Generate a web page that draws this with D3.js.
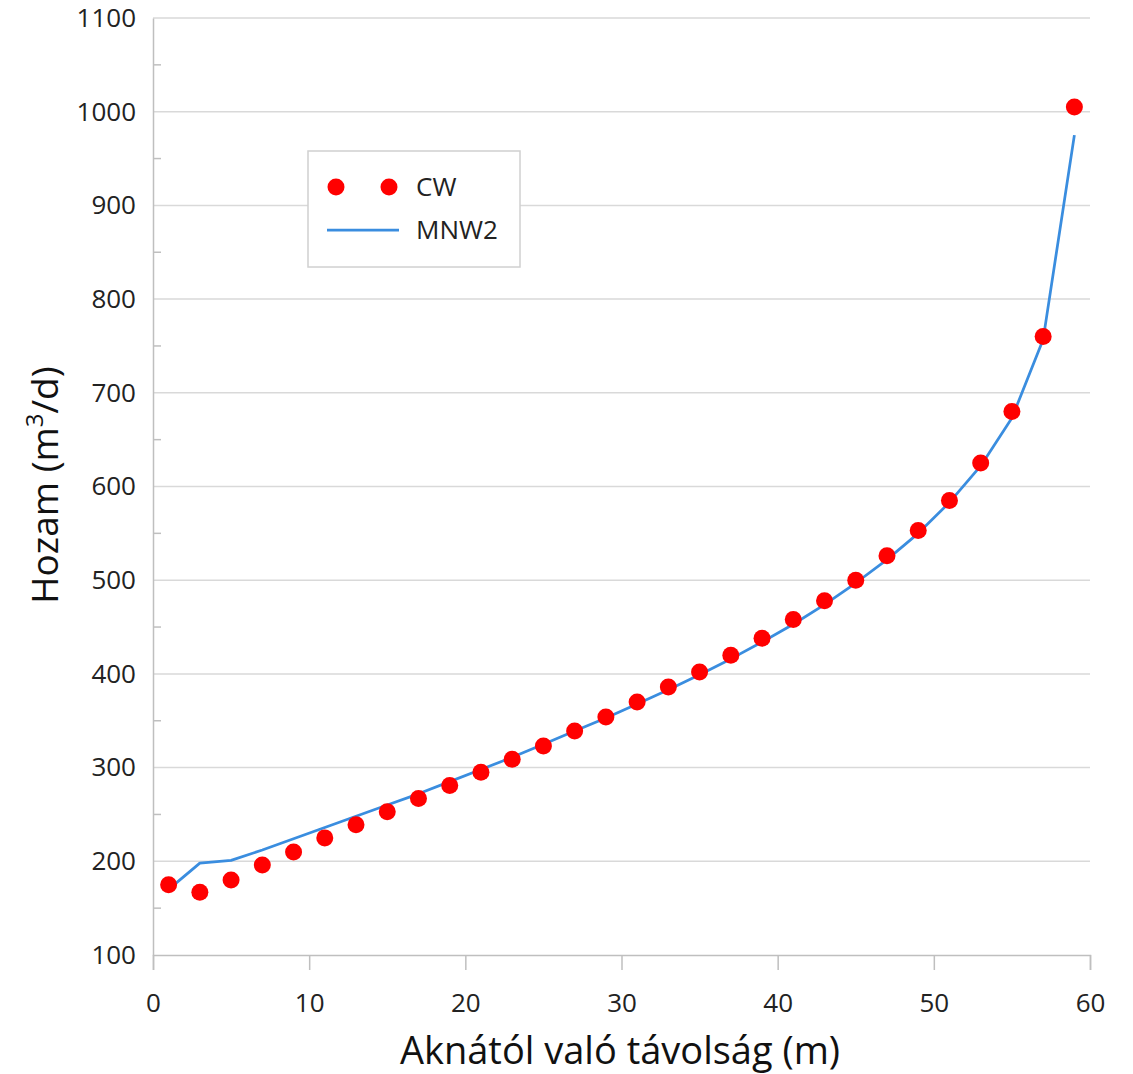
<!DOCTYPE html>
<html>
<head>
<meta charset="utf-8">
<script src="https://cdn.jsdelivr.net/npm/d3@7"></script>
<style>
  body { margin: 0; background: #fff; }
  svg { font-family: "Open Sans", sans-serif; }
</style>
</head>
<body>
<svg id="chart" width="1133" height="1074"></svg>
<script>
// distance from well (m)
let distances = [1, 3, 5, 7, 9, 11, 13, 15, 17, 19, 21, 23, 25, 27, 29,
                 31, 33, 35, 37, 39, 41, 43, 45, 47, 49, 51, 53, 55, 57, 59];
// CW series
let cwValues = [175, 167, 180, 196, 210, 225, 239, 253, 267, 281, 295, 309, 323, 339, 354,
                370, 386, 402, 420, 438, 458, 478, 500, 526, 553, 585, 625, 680, 760, 1005];
// MNW2 series
let mnw2Values = [170, 198, 201, 212, 224, 236, 248, 260, 272, 285, 298, 311, 325, 339, 353,
                  368, 383, 399, 416, 434, 453, 474, 497, 522, 550, 583, 622, 673, 757, 975];
let xTicks = [0, 10, 20, 30, 40, 50, 60];
let yTicks = [100, 200, 300, 400, 500, 600, 700, 800, 900, 1000, 1100];
let yMinorTicks = [150, 250, 350, 450, 550, 650, 750, 850, 950, 1050];

let svg = d3.select("#chart");
let margin = { top: 18, right: 43, bottom: 119, left: 153 };
let plotWidth = 1133 - margin.left - margin.right;
let plotHeight = 1074 - margin.top - margin.bottom;

let plot = svg.append("g")
  .attr("transform", "translate(" + margin.left + "," + margin.top + ")");

let xScale = d3.scaleLinear().domain([0, 60]).range([0, plotWidth]);
let yScale = d3.scaleLinear().domain([100, 1100]).range([plotHeight, 0]);

// gridlines
plot.append("g").selectAll("line")
  .data(yTicks.slice(1))
  .enter().append("line")
  .attr("x1", 0)
  .attr("x2", plotWidth)
  .attr("y1", d => yScale(d))
  .attr("y2", d => yScale(d))
  .attr("stroke", "#d9d9d9")
  .attr("stroke-width", 1.5);

// x axis
let xAxis = d3.axisBottom(xScale).tickValues(xTicks).tickSize(15).tickPadding(24).tickFormat(d3.format("d"));
let xGroup = plot.append("g")
  .attr("transform", "translate(0," + plotHeight + ")")
  .call(xAxis);
xGroup.select(".domain").attr("stroke", "#bfbfbf").attr("stroke-width", 1.5);
xGroup.selectAll(".tick line").attr("stroke", "#bfbfbf").attr("stroke-width", 1.5);
xGroup.selectAll(".tick text")
  .attr("font-size", 26)
  .attr("fill", "#222")
  .style("font-family", "'Open Sans', sans-serif");

// y axis
let yAxis = d3.axisLeft(yScale).tickValues(yTicks).tickSize(0).tickPadding(17).tickFormat(d3.format("d"));
let yGroup = plot.append("g").call(yAxis);
yGroup.select(".domain").attr("stroke", "#bfbfbf").attr("stroke-width", 1.5);
yGroup.selectAll(".tick text")
  .attr("font-size", 26)
  .attr("fill", "#222")
  .style("font-family", "'Open Sans', sans-serif");

// minor ticks on the y axis (inside)
plot.append("g").selectAll("line")
  .data(yMinorTicks)
  .enter().append("line")
  .attr("x1", 0)
  .attr("x2", 8)
  .attr("y1", d => yScale(d))
  .attr("y2", d => yScale(d))
  .attr("stroke", "#bfbfbf")
  .attr("stroke-width", 1.5);

// MNW2 line
let line = d3.line()
  .x((d, i) => xScale(distances[i]))
  .y(d => yScale(d));

plot.append("path")
  .datum(mnw2Values)
  .attr("d", line)
  .attr("fill", "none")
  .attr("stroke", "#3a8ddf")
  .attr("stroke-width", 2.75)
  .attr("stroke-linejoin", "round");

// CW points
plot.append("g").selectAll("circle")
  .data(cwValues)
  .enter().append("circle")
  .attr("cx", (d, i) => xScale(distances[i]))
  .attr("cy", d => yScale(d))
  .attr("r", 8.5)
  .attr("fill", "#ff0000");

// legend
let legend = svg.append("g").attr("transform", "translate(308,151)");
legend.append("rect")
  .attr("width", 212)
  .attr("height", 116)
  .attr("fill", "#fff")
  .attr("stroke", "#d0d0d0")
  .attr("stroke-width", 1.5);
legend.append("circle").attr("cx", 28).attr("cy", 36).attr("r", 8.5).attr("fill", "#ff0000");
legend.append("circle").attr("cx", 81).attr("cy", 36).attr("r", 8.5).attr("fill", "#ff0000");
legend.append("text")
  .attr("x", 108).attr("y", 45)
  .attr("font-size", 26).attr("fill", "#222")
  .text("CW");
legend.append("line")
  .attr("x1", 19).attr("x2", 91)
  .attr("y1", 79).attr("y2", 79)
  .attr("stroke", "#3a8ddf").attr("stroke-width", 2.75);
legend.append("text")
  .attr("x", 108).attr("y", 88)
  .attr("font-size", 26).attr("fill", "#222")
  .text("MNW2");

// axis titles
svg.append("text")
  .attr("x", 620)
  .attr("y", 1064)
  .attr("text-anchor", "middle")
  .attr("font-size", 38)
  .attr("fill", "#111")
  .text("Aknától való távolság (m)");

let yTitle = svg.append("text")
  .attr("transform", "translate(58,485) rotate(-90)")
  .attr("text-anchor", "middle")
  .attr("font-size", 37)
  .attr("fill", "#111");
yTitle.append("tspan").text("Hozam (m");
yTitle.append("tspan").attr("font-size", 24).attr("dy", -15).text("3");
yTitle.append("tspan").attr("dy", 15).text("/d)");
</script>
</body>
</html>
